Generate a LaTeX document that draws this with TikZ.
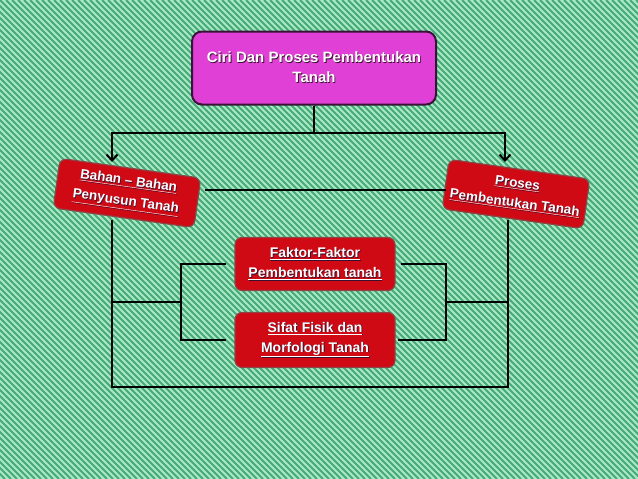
\documentclass[tikz,border=0pt]{standalone}
\usepackage{fontspec}
\setmainfont{Liberation Sans}
\usetikzlibrary{arrows.meta,positioning,calc}

\definecolor{bglight}{HTML}{A8E8C4}
\definecolor{bgstripe}{HTML}{46AA78}
\definecolor{topfill}{HTML}{E040D6}
\definecolor{topline}{HTML}{3A1238}
\definecolor{redfill}{HTML}{CF0A14}
\definecolor{redline}{HTML}{8C4444}
\definecolor{txtshadow}{HTML}{3A1030}

% white text with a small dark shadow
\newcommand\shd[1]{\leavevmode\rlap{\kern.8pt\raisebox{-.8pt}{\textcolor{txtshadow}{#1}}}#1}
\newcommand\shu[1]{\shd{\underline{#1}}}

\begin{document}
\begin{tikzpicture}[x=1pt, y=-1pt,
    topbox/.style={draw=topline, line width=2pt, fill=topfill, rounded corners=10pt,
      minimum width=244pt, minimum height=73pt, align=center, text=white,
      font=\bfseries\fontsize{15}{20}\selectfont},
    redbox/.style={draw=redline, line width=1.2pt, fill=redfill, rounded corners=7pt,
      align=center, text=white, font=\bfseries\fontsize{14}{20}\selectfont},
    link/.style={line width=2.2pt, black},
    arr/.style={link, -{Straight Barb[length=6pt, width=11pt, line width=2pt]}}]
  \useasboundingbox (0,0) rectangle (638,479);
  % striped background
  \begin{scope}
    \clip (0,0) rectangle (638,479);
    \fill[bglight] (0,0) rectangle (638,479);
    \foreach \s in {-480,-474,...,640}
      \draw[bgstripe, line width=2pt] (\s,0) -- ++(479,479);
  \end{scope}

  % boxes
  \node[topbox] (ciri) at (314,68) {\shd{Ciri Dan Proses Pembentukan}\\\shd{Tanah}};
  \node[redbox, font=\bfseries\fontsize{13.5}{20}\selectfont, minimum width=142pt,
    minimum height=50pt, rotate=-8] (bahan) at (127,193)
    {\shu{Bahan -- Bahan}\\\shu{Penyusun Tanah}};
  \node[redbox, font=\bfseries\fontsize{13.5}{20}\selectfont, minimum width=142pt,
    minimum height=50pt, rotate=-8] (proses) at (516,194)
    {\shu{Proses}\\\shu{Pembentukan Tanah}};
  \node[redbox, minimum width=160pt, minimum height=53pt] (faktor) at (315,264)
    {\shu{Faktor-Faktor}\\\shu{Pembentukan tanah}};
  \node[redbox, minimum width=160pt, minimum height=55pt] (sifat) at (315,340)
    {\shu{Sifat Fisik dan}\\\shu{Morfologi Tanah}};

  % joints
  \coordinate (split) at (314,133);
  \coordinate (bahanin) at (112,162);
  \coordinate (prosesin) at (505,162);
  \coordinate (bahanout) at (205,190);
  \coordinate (prosesout) at (446,190);
  \coordinate (bahanbot) at (112,220);
  \coordinate (prosesbot) at (508,220);
  \coordinate (loopl) at (112,387);
  \coordinate (lmid) at (112,302);
  \coordinate (rmid) at (508,302);
  \coordinate (lbr) at (181,302);
  \coordinate (rbr) at (446,302);

  % connectors
  \draw[link] (ciri.south) -- (split);
  \draw[arr] (split) -| (bahanin);
  \draw[arr] (split) -| (prosesin);
  \draw[link] (bahanout) -- (prosesout);
  \draw[link] (bahanbot) -- (loopl) -| (prosesbot);
  \draw[link] (lmid) -- (lbr);
  \draw[link] (rmid) -- (rbr);
  \draw[link] ([xshift=-8pt]faktor.west) -| (lbr) |- ([xshift=-8pt]sifat.west);
  \draw[link] ([xshift=5pt]faktor.east) -| (rbr) |- ([xshift=2pt]sifat.east);
\end{tikzpicture}
\end{document}
